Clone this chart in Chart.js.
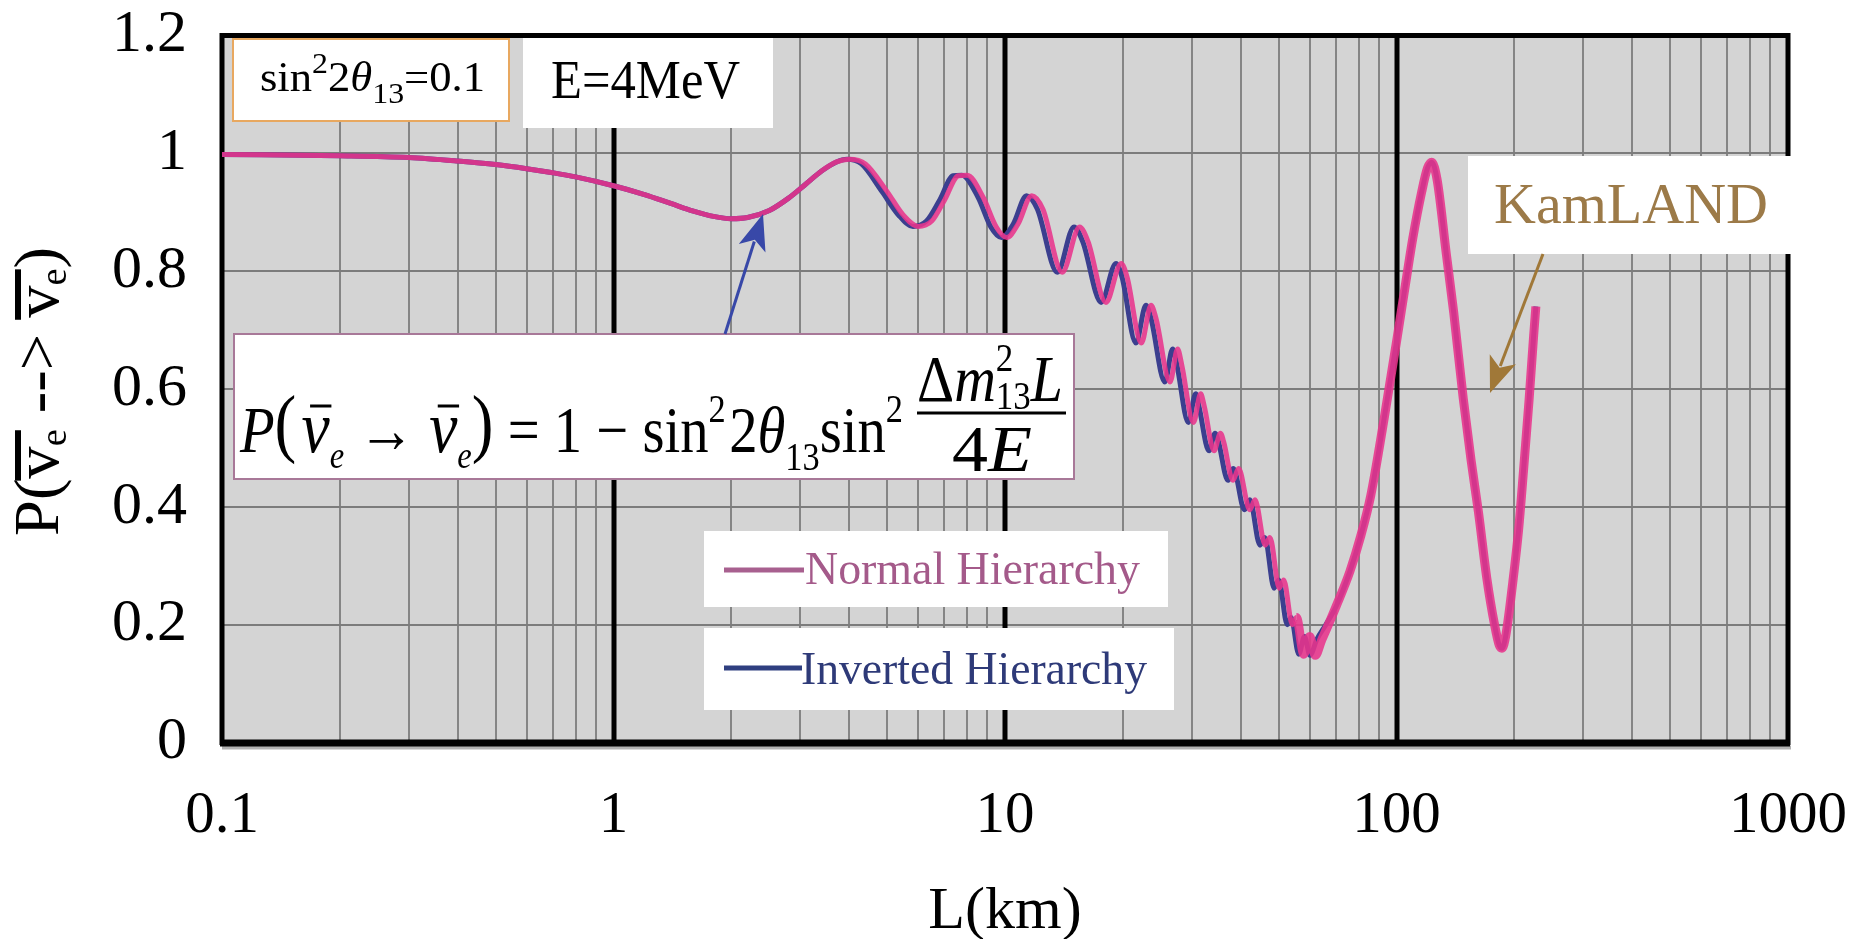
<!DOCTYPE html>
<html><head><meta charset="utf-8">
<script src="https://cdn.jsdelivr.net/npm/chart.js@4.4.1/dist/chart.umd.min.js"></script>
<style>html,body{margin:0;padding:0;background:#fff;overflow:hidden}</style>
</head><body>
<canvas id="c" width="1854" height="939"></canvas>
<script>
// ---- data ----
const nhL = [0.1,0.2,0.3,0.4,0.5,0.6,0.7,0.8,1.0,1.2,1.4,1.6,1.8,2.0,2.2,2.5,2.8,3.1,3.4,3.7,4.0,4.4,5.0,5.5,6.0,6.5,7.0,7.6,8.0,8.8,9.5,10.1,10.8,11.7,12.5,14.0,15.5,16.3,18.1,19.8,20.5,22.3,23.6,24.3,26.4,27.6,28.3,30.3,31.6,32.3,34.2,35.5,36.2,38.2,39.5,42.2,43.5,46.2,47.5,50.2,51.5,54.2,55.5,58.0,60.0,62.0,64.5,67.0,70.0,76.0,81.0,86.0,93.0,100,105,110,116,120,123,127,134,140,148,155,162,170,178,183,186,190,198,205,211,218,224,227];
const nhP = [0.998,0.996,0.993,0.987,0.981,0.974,0.967,0.960,0.945,0.930,0.915,0.902,0.893,0.889,0.891,0.903,0.924,0.948,0.970,0.985,0.990,0.982,0.935,0.895,0.876,0.885,0.920,0.962,0.963,0.925,0.875,0.857,0.880,0.928,0.905,0.798,0.875,0.850,0.747,0.813,0.790,0.678,0.742,0.720,0.612,0.668,0.640,0.543,0.592,0.570,0.495,0.525,0.510,0.445,0.465,0.395,0.412,0.335,0.348,0.262,0.276,0.200,0.212,0.150,0.180,0.148,0.175,0.200,0.230,0.290,0.350,0.420,0.550,0.680,0.770,0.855,0.935,0.975,0.985,0.955,0.830,0.730,0.585,0.480,0.390,0.280,0.200,0.165,0.160,0.180,0.270,0.360,0.460,0.580,0.690,0.740];
const ihL = [0.1,0.2,0.3,0.4,0.5,0.6,0.7,0.8,1.0,1.2,1.4,1.6,1.8,2.0,2.2,2.5,2.8,3.1,3.4,3.7,3.95,4.3,4.85,5.35,5.82,6.3,6.8,7.37,7.76,8.54,9.2,9.8,10.5,11.35,12.1,13.6,15.0,15.8,17.6,19.2,19.9,21.6,22.9,23.6,25.6,26.8,27.5,29.4,30.7,31.3,33.2,34.4,35.1,37.1,38.3,40.9,42.2,44.8,46.1,48.7,50.0,52.6,53.8,56.3,58.2,60.1,62.6,66,70,76,81,86,93,100,105,110,116,120,123,127,134,140,148,155,162,170,178,183,186,190,198,205,211,218,224,227];
const ihP = nhP.slice();
const xLabels = [0.1, 1, 10, 100, 1000];
const yMin = 0, yMax = 1.2, yStep = 0.2;
const seriesNames = ['Normal Hierarchy', 'Inverted Hierarchy'];

const SERIF = '"Liberation Serif", "Times New Roman", serif';
const isDecade = v => Math.abs(Math.log10(v) - Math.round(Math.log10(v))) < 1e-9;
const isIntMantissa = v => { const m = v / Math.pow(10, Math.floor(Math.log10(v) + 1e-9)); return Math.abs(m - Math.round(m)) < 1e-6; };

function runW(ctx, parts){ let w=0; for(const p of parts){ ctx.font=p.f; w += (p.dx||0) + (p.adv!==undefined ? p.adv : ctx.measureText(p.t).width);} return w; }
function drawRun(ctx, parts, x, y, targetW, color){
  const w = runW(ctx, parts); const s = targetW ? targetW / w : 1;
  ctx.save(); ctx.translate(x, y); ctx.scale(s, 1);
  ctx.fillStyle = color; ctx.strokeStyle = color; ctx.textAlign='left'; ctx.textBaseline='alphabetic';
  let cx = 0;
  for (const p of parts){
    ctx.font = p.f; cx += (p.dx||0);
    ctx.fillText(p.t, cx, p.dy||0);
    const tw = ctx.measureText(p.t).width;
    if (p.bar){ ctx.lineWidth = p.bar.w; ctx.beginPath(); ctx.moveTo(cx + (p.bar.x0||0), p.bar.y); ctx.lineTo(cx + tw + (p.bar.x1||0), p.bar.y); ctx.stroke(); }
    cx += (p.adv!==undefined ? p.adv : tw);
  }
  ctx.restore();
}
function fitText(ctx, t, x, y, font, color, targetW){ drawRun(ctx, [{t, f:font}], x, y, targetW, color); }
function box(ctx, x0, y0, x1, y1, stroke){ ctx.fillStyle='#fff'; ctx.fillRect(x0,y0,x1-x0,y1-y0); if(stroke){ ctx.strokeStyle=stroke; ctx.lineWidth=2; ctx.strokeRect(x0+1,y0+1,x1-x0-2,y1-y0-2);} }
function arrow(ctx, x0, y0, x1, y1, color, lw, hl, hw){
  const a = Math.atan2(y1-y0, x1-x0);
  ctx.save(); ctx.strokeStyle=color; ctx.fillStyle=color; ctx.lineWidth=lw;
  ctx.beginPath(); ctx.moveTo(x0,y0); ctx.lineTo(x1 - Math.cos(a)*hl*0.8, y1 - Math.sin(a)*hl*0.8); ctx.stroke();
  ctx.translate(x1,y1); ctx.rotate(a);
  ctx.beginPath(); ctx.moveTo(0,0); ctx.lineTo(-hl, hw/2); ctx.lineTo(-hl*0.75, 0); ctx.lineTo(-hl, -hw/2); ctx.closePath(); ctx.fill();
  ctx.restore();
}

const TARGET = { top: 35.5, bottom: 742.5, left: 222, right: 1788 };

const deco = {
  id: 'deco',
  beforeDraw(chart){
    const {ctx, chartArea:a} = chart;
    ctx.save(); ctx.fillStyle='#fff'; ctx.fillRect(0,0,chart.width,chart.height);
    ctx.fillStyle='#d4d4d4'; ctx.fillRect(a.left,a.top,a.right-a.left,a.bottom-a.top); ctx.restore();
  },
  beforeDatasetsDraw(chart){
    const {ctx, chartArea:a, scales} = chart;
    ctx.save();
    ctx.strokeStyle='#000';
    ctx.lineWidth = 5;
    for (const v of [1,10,100]){ const x = Math.round(scales.x.getPixelForValue(v)); ctx.beginPath(); ctx.moveTo(x,a.top); ctx.lineTo(x,a.bottom); ctx.stroke(); }
    ctx.fillStyle='#b0b0b0'; ctx.fillRect(a.left, a.bottom+3, a.right-a.left+3, 4);
    ctx.lineWidth = 5; ctx.strokeRect(a.left, a.top, a.right-a.left, a.bottom-a.top);
    ctx.fillStyle='#000'; ctx.fillRect(a.left-2, a.bottom-3, a.right-a.left+4, 7);
    ctx.restore();
  },
  afterDatasetsDraw(chart){
    const {ctx} = chart;
    ctx.save();
    // parameter boxes
    box(ctx, 232, 38, 510, 122, '#e8a860');
    const r40 = '42px '+SERIF, s28 = '30px '+SERIF, i40 = 'italic 42px '+SERIF;
    drawRun(ctx, [{t:'sin',f:r40},{t:'2',f:s28,dy:-18},{t:'2',f:r40},{t:'θ',f:i40},{t:'13',f:s28,dy:12},{t:'=0.1',f:r40}], 260, 91, 225, '#000');
    box(ctx, 523, 38, 773, 128, null);
    fitText(ctx, 'E=4MeV', 551, 98, '54px '+SERIF, '#000', 189);

    // formula box
    box(ctx, 233, 333, 1075, 480, '#a87898');
    const R='66px '+SERIF, I='italic 66px '+SERIF, NU='italic 74px '+SERIF, S='40px '+SERIF, SI='italic 38px '+SERIF, BIG='76px '+SERIF;
    drawRun(ctx, [
      {t:'P',f:I},{t:'(',f:BIG,dy:-4},{t:'ν',f:NU,dx:6,bar:{y:-46,w:3,x0:10,x1:2}},{t:'e',f:SI,dy:16},
      {t:' → ',f:R},{t:'ν',f:NU,bar:{y:-46,w:3,x0:10,x1:2}},{t:'e',f:SI,dy:16},{t:')',f:BIG,dy:-4},
      {t:' = 1 − sin',f:R},{t:'2',f:S,dy:-30},{t:'2',f:R,dx:4},{t:'θ',f:I},{t:'13',f:S,dy:18},{t:'sin',f:R},{t:'2',f:S,dy:-30}
    ], 240, 452, 663, '#000');
    drawRun(ctx, [{t:'Δ',f:R},{t:'m',f:I},{t:'2',f:S,dy:-30,adv:0},{t:'13',f:S,dy:8},{t:'L',f:I}], 917, 401, 146, '#000');
    ctx.strokeStyle='#000'; ctx.lineWidth=3; ctx.beginPath(); ctx.moveTo(917,413); ctx.lineTo(1066,413); ctx.stroke();
    drawRun(ctx, [{t:'4',f:R},{t:'E',f:I}], 952, 471, 80, '#000');
    arrow(ctx, 725, 334, 763, 214, '#3848a8', 3, 36, 28);

    // legend boxes
    box(ctx, 704, 531, 1168, 607, null);
    ctx.strokeStyle='#a8608f'; ctx.lineWidth=5; ctx.beginPath(); ctx.moveTo(724,570); ctx.lineTo(804,570); ctx.stroke();
    fitText(ctx, seriesNames[0], 805, 584, '47px '+SERIF, '#a45a8a', 335);
    box(ctx, 704, 628, 1174, 710, null);
    ctx.strokeStyle='#2f3f80'; ctx.lineWidth=5; ctx.beginPath(); ctx.moveTo(724,668); ctx.lineTo(802,668); ctx.stroke();
    fitText(ctx, seriesNames[1], 801, 684, '47px '+SERIF, '#2e3a78', 346);

    // KamLAND
    box(ctx, 1468, 156, 1800, 254, null);
    fitText(ctx, 'KamLAND', 1494, 223, '58px '+SERIF, '#9c7a48', 274);
    arrow(ctx, 1543, 254, 1490, 393, '#a07838', 3, 36, 28);
    ctx.restore();
  },
  afterDraw(chart){
    const {ctx, chartArea:a} = chart;
    ctx.save();
    ctx.fillStyle='#000'; ctx.font='60px '+SERIF; ctx.textAlign='center'; ctx.textBaseline='alphabetic';
    ctx.fillText('L(km)', (a.left+a.right)/2, 928);
    // y-axis title, rotated
    ctx.translate(58, 536); ctx.rotate(-Math.PI/2);
    const R='64px '+SERIF, SB='38px '+SERIF;
    drawRun(ctx, [
      {t:'P',f:R},{t:'(',f:R},{t:'v',f:R,bar:{y:-40,w:6,x0:-2,x1:16}},{t:'e',f:SB,dy:8},
      {t:' --> ',f:R},{t:'v',f:R,bar:{y:-40,w:6,x0:-2,x1:16}},{t:'e',f:SB,dy:8},{t:')',f:R}
    ], 0, 0, 289, '#000');
    ctx.restore();
  }
};

function makeChart(pad, xAxisHeight){
  const nhData = nhL.map((x,i)=>({x, y:nhP[i]}));
  const ihData = ihL.map((x,i)=>({x, y:ihP[i]}));
  return new Chart(document.getElementById('c'), {
    type: 'line',
    data: { datasets: [
      { label: seriesNames[0], data: nhData, borderColor: 'rgba(232,52,140,0.88)', borderWidth: 5, pointRadius: 0, cubicInterpolationMode: 'monotone', fill:false,
        segment: { borderWidth: c => (c.p0.parsed.x >= 55 ? 9 : 5) } },
      { label: seriesNames[1], data: ihData, borderColor: '#3b3f8f', borderWidth: 5, pointRadius: 0, cubicInterpolationMode: 'monotone', fill:false }
    ]},
    options: {
      responsive: false, animation: false, devicePixelRatio: 1, events: [],
      layout: { padding: pad },
      plugins: { legend: { display: false }, tooltip: { enabled: false } },
      scales: {
        x: {
          type: 'logarithmic', min: 0.1, max: 1000,
          afterFit: s => { s.height = xAxisHeight; s.paddingLeft = 0; s.paddingRight = 0; },
          border: { display: false },
          grid: { drawTicks: false,
            color: c => (c.tick && isIntMantissa(c.tick.value) && !isDecade(c.tick.value)) ? '#858585' : 'rgba(0,0,0,0)',
            lineWidth: 2 },
          ticks: { autoSkip: false, maxRotation: 0, padding: 39, color: '#000', font: { family: SERIF, size: 59 },
            callback: v => (xLabels.some(d => Math.abs(d - v) < 1e-9) ? String(v) : '') }
        },
        y: {
          min: yMin, max: yMax,
          afterFit: s => { s.width = TARGET.left; s.paddingTop = 0; s.paddingBottom = 0; },
          border: { display: false },
          grid: { drawTicks: false, color: '#7c7c7c', lineWidth: 2 },
          ticks: { stepSize: yStep, padding: 35, color: '#000', font: { family: SERIF, size: 60 },
            callback: v => String(Math.round(v * 10) / 10) }
        }
      }
    },
    plugins: [deco]
  });
}
// first pass measures where the library puts the plot area, later passes correct the padding
let pad = { left: 0, right: 66, top: 35.5, bottom: 0 };
let xh = 939 - 742.5;
let chart = makeChart(pad, xh);
for (let k = 0; k < 3; k++) {
  const a = chart.chartArea;
  const dt = a.top - TARGET.top, dr = a.right - TARGET.right, db = a.bottom - TARGET.bottom;
  if (Math.abs(dt) < 0.5 && Math.abs(dr) < 0.5 && Math.abs(db) < 0.5) break;
  pad = { left: pad.left, right: pad.right + dr, top: pad.top - dt, bottom: pad.bottom };
  xh += db;
  chart.destroy();
  chart = makeChart(pad, xh);
}
</script>
</body></html>
